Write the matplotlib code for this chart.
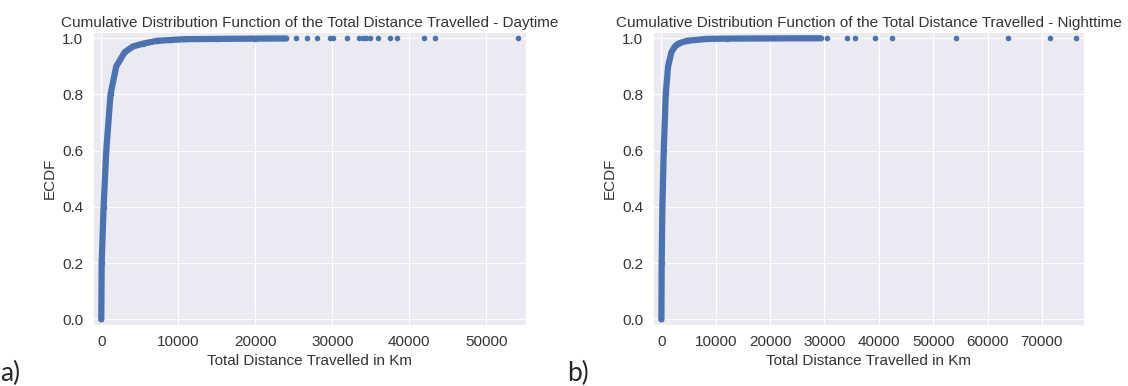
import numpy as np
import matplotlib.pyplot as plt
import seaborn as sns

sns.set_style('darkgrid')
plt.rcParams['font.family'] = ['Liberation Sans', 'DejaVu Sans']

# ECDF (distance in km, cumulative fraction)
day_x = [0, 50, 300, 650, 1200, 1950, 3050, 4100, 5400, 7200, 9000, 10900,
         15000, 20000, 24000]
day_y = [0.0, 0.2, 0.4, 0.6, 0.8, 0.9, 0.95, 0.97, 0.98, 0.99, 0.993, 0.996,
         0.997, 0.998, 0.9985]
day_tail_x = [25330, 26760, 28070, 29720, 30030, 31890, 33500, 33940, 34370,
              34940, 35900, 37510, 38420, 41900, 43290, 54080]
day_tail_y = [0.9986, 0.9987, 0.9988, 0.9989, 0.999, 0.9991, 0.9992, 0.9993,
              0.9994, 0.9995, 0.9996, 0.9997, 0.9998, 0.9998, 0.9999, 1.0]

night_x = [0, 50, 180, 430, 800, 1230, 1850, 2470, 3090, 4630, 8330, 12000,
           18000, 24000, 29300]
night_y = [0.0, 0.2, 0.4, 0.6, 0.8, 0.9, 0.95, 0.97, 0.98, 0.99, 0.997, 0.998,
           0.9985, 0.999, 0.9992]
night_tail_x = [30550, 34070, 35610, 39310, 42400, 54130, 63760, 71410, 76220]
night_tail_y = [0.9993, 0.9994, 0.9995, 0.9996, 0.9997, 0.9998, 0.9999,
                0.9999, 1.0]

col = '#4C72B0'
txt = '.2'

fig = plt.figure(figsize=(11.28, 3.86), dpi=100)
ax1 = fig.add_axes([0.0824, 0.158, 0.384, 0.758])
ax2 = fig.add_axes([0.579, 0.158, 0.382, 0.758])

panels = [
    (ax1, day_x, day_y, day_tail_x, day_tail_y, 'Daytime'),
    (ax2, night_x, night_y, night_tail_x, night_tail_y, 'Nighttime'),
]

for ax, x, y, tx, ty, when in panels:
    ax.plot(x, y, '-', color=col, lw=4.5, solid_capstyle='round')
    ax.plot(x, y, '.', color=col)
    ax.plot(tx, ty, '.', color=col, linestyle='none')
    ax.margins(0.02)
    ax.set_yticks([0.0, 0.2, 0.4, 0.6, 0.8, 1.0])
    ax.tick_params(labelsize=11, colors=txt)
    ax.set_xlabel('Total Distance Travelled in Km', fontsize=11, color=txt)
    ax.set_ylabel('ECDF', fontsize=11, color=txt)
    ax.set_title('Cumulative Distribution Function of the Total Distance '
                 'Travelled - ' + when, fontsize=11, color=txt, pad=4)

fig.text(0.0, 0.012, 'a)', fontsize=19, family='Lato')
fig.text(0.503, 0.012, 'b)', fontsize=19, family='Lato')

fig.savefig('out.png', dpi=100)
